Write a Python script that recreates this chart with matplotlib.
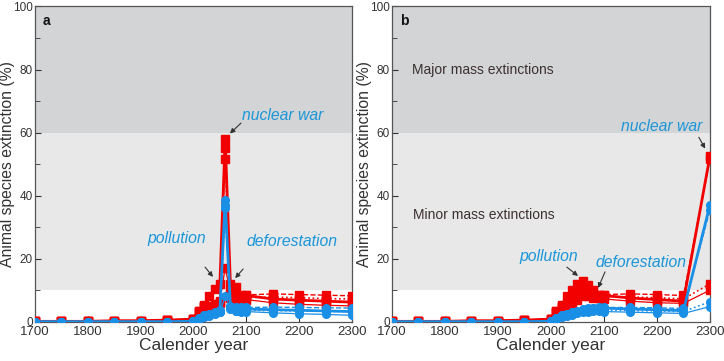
import matplotlib
matplotlib.use('Agg')
from matplotlib import pyplot as plt
from matplotlib.ticker import MultipleLocator

plt.rcParams['font.family'] = ['Liberation Sans', 'DejaVu Sans']

years = [1700, 1750, 1800, 1850, 1900, 1950, 2000, 2010, 2020, 2030, 2040,
         2050, 2060, 2070, 2080, 2090, 2100, 2150, 2200, 2250, 2300]

past_red = [0.1, 0.1, 0.1, 0.3, 0.3, 0.5, 0.8]
past_blue = [0.0, 0.0, 0.0, 0.0, 0.0, 0.0, 0.1]

# panel a: nuclear war in 2060
a_red = [
    past_red + [3.3, 5.2, 8.2, 10.4, 11.8, 58.0, 11.8, 11.1, 8.2, 8.3, 7.2, 6.8, 6.5, 6.2],
    past_red + [3.3, 5.0, 4.3, 5.1, 6.3, 55.0, 8.5, 8.0, 8.3, 8.5, 8.8, 8.6, 8.4, 8.2],
    past_red + [3.0, 4.8, 4.5, 5.3, 6.0, 51.5, 7.5, 7.2, 7.5, 7.6, 7.8, 7.6, 7.3, 7.2],
    past_red + [3.2, 5.0, 5.0, 5.5, 6.5, 17.0, 9.5, 7.0, 7.0, 7.0, 6.0, 5.5, 5.2, 5.0],
]
a_blue = [
    past_blue + [1.0, 2.0, 2.2, 2.8, 3.5, 38.5, 5.0, 4.2, 3.8, 4.0, 3.8, 3.6, 3.4, 3.2],
    past_blue + [1.0, 2.1, 2.4, 3.0, 3.8, 37.0, 4.5, 4.5, 4.5, 4.5, 4.6, 4.5, 4.4, 4.3],
    past_blue + [0.9, 1.8, 2.0, 2.6, 3.2, 36.0, 4.0, 3.5, 3.5, 3.6, 3.5, 3.4, 3.3, 3.2],
    past_blue + [0.8, 1.6, 1.9, 2.4, 3.0, 8.0, 4.5, 3.5, 3.2, 3.2, 2.8, 2.5, 2.3, 2.0],
]

# panel b: nuclear war in 2300
b_red = [
    past_red + [3.5, 5.3, 8.0, 10.2, 11.8, 12.8, 11.5, 10.0, 8.5, 8.3, 7.5, 7.0, 6.5, 52.5],
    past_red + [3.3, 5.0, 5.5, 7.5, 9.0, 10.5, 10.0, 9.0, 8.5, 8.6, 8.8, 8.6, 8.3, 51.5],
    past_red + [3.0, 4.5, 5.0, 6.5, 8.0, 9.0, 9.0, 8.0, 8.0, 8.0, 7.8, 7.6, 7.2, 12.0],
    past_red + [3.2, 4.8, 5.0, 6.0, 7.0, 8.0, 8.0, 7.5, 7.5, 7.2, 6.5, 6.0, 5.8, 10.0],
]
b_blue = [
    past_blue + [1.0, 2.0, 2.5, 3.0, 3.5, 4.0, 4.2, 4.3, 4.3, 4.3, 4.0, 3.8, 3.5, 37.0],
    past_blue + [1.0, 2.0, 2.3, 2.8, 3.2, 3.8, 4.0, 4.3, 4.5, 4.5, 4.5, 4.4, 4.2, 35.5],
    past_blue + [0.8, 1.8, 2.0, 2.5, 3.0, 3.4, 3.6, 3.8, 3.8, 3.7, 3.5, 3.4, 3.2, 6.3],
    past_blue + [0.8, 1.5, 1.8, 2.2, 2.6, 3.0, 3.2, 3.3, 3.3, 3.2, 3.0, 2.8, 2.6, 4.8],
]

red = '#f20000'
blue = '#1a8fe6'
label_blue = '#1a96d9'
dark = '#333333'
styles = [('-', 2.0), ('--', 1.0), (':', 1.2), ('-', 0.9)]

fig = plt.figure(figsize=(7.24, 3.61), dpi=100)
ax_a = fig.add_axes([0.0483, 0.109, 0.4378, 0.873])
ax_b = fig.add_axes([0.5414, 0.109, 0.4392, 0.873])


def draw_panel(ax, reds, blues, letter):
    ax.axhspan(60, 100, color='#d3d4d6', zorder=0, lw=0)
    ax.axhspan(10, 60, color='#e8e8e8', zorder=0, lw=0)
    for ys, (ls, lw) in zip(reds, styles):
        ax.plot(years, ys, color=red, ls=ls, lw=lw, marker='s', ms=5.5,
                mec=red, zorder=3)
    for ys, (ls, lw) in zip(blues, styles):
        ax.plot(years, ys, color=blue, ls=ls, lw=lw, marker='o', ms=5.5,
                mec=blue, zorder=4)
    ax.set_xlim(1700, 2300)
    ax.set_ylim(0, 100)
    ax.xaxis.set_major_locator(MultipleLocator(100))
    ax.yaxis.set_major_locator(MultipleLocator(20))
    ax.yaxis.set_minor_locator(MultipleLocator(10))
    ax.tick_params(which='both', direction='in', colors=dark, pad=2)
    ax.tick_params(axis='x', labelsize=9.5, pad=3)
    ax.tick_params(axis='y', labelsize=8.5, pad=1.5)
    ax.tick_params(which='major', length=4.5)
    ax.tick_params(which='minor', length=3.5)
    for sp in ax.spines.values():
        sp.set_color('#555555')
        sp.set_linewidth(0.9)
    ax.set_xlabel('Calender year', fontsize=12.5, color=dark, labelpad=0)
    ax.set_ylabel('Animal species extinction (%)', fontsize=11.3, color=dark)
    ax.yaxis.set_label_coords(-0.062, 0.5)
    ax.text(0.025, 0.975, letter, transform=ax.transAxes, fontsize=10,
            fontweight='bold', va='top', color='#111111')


def label(ax, text, xy):
    ax.text(xy[0], xy[1], text, color=label_blue, fontsize=11.3,
            style='italic', ha='center', va='center', zorder=6)


def arrow(ax, tail, head):
    ax.annotate('', xy=head, xytext=tail, zorder=6,
                arrowprops=dict(arrowstyle='-|>', color='#333333', lw=0.8,
                                mutation_scale=7, shrinkA=0, shrinkB=0))


draw_panel(ax_a, a_red, a_blue, 'a')
draw_panel(ax_b, b_red, b_blue, 'b')

# panel a labels
label(ax_a, 'nuclear war', (2168, 65.4))
arrow(ax_a, (2090, 63.0), (2069, 59.7))
label(ax_a, 'pollution', (1969, 26.5))
arrow(ax_a, (2022, 17.3), (2037, 14.2))
label(ax_a, 'deforestation', (2187, 25.5))
arrow(ax_a, (2094, 16.7), (2079, 13.8))

# panel b labels
ax_b.text(1872, 79.7, 'Major mass extinctions', fontsize=10, color='#3b3030',
          ha='center', va='center')
ax_b.text(1873, 33.8, 'Minor mass extinctions', fontsize=10, color='#3b3030',
          ha='center', va='center')
label(ax_b, 'nuclear war', (2209, 61.8))
arrow(ax_b, (2279, 58.5), (2291, 54.9))
label(ax_b, 'pollution', (1995, 20.8))
arrow(ax_b, (2030, 17.3), (2051, 14.5))
label(ax_b, 'deforestation', (2170, 18.7))
arrow(ax_b, (2102, 15.8), (2089, 10.7))

plt.savefig('out.png', dpi=100)
